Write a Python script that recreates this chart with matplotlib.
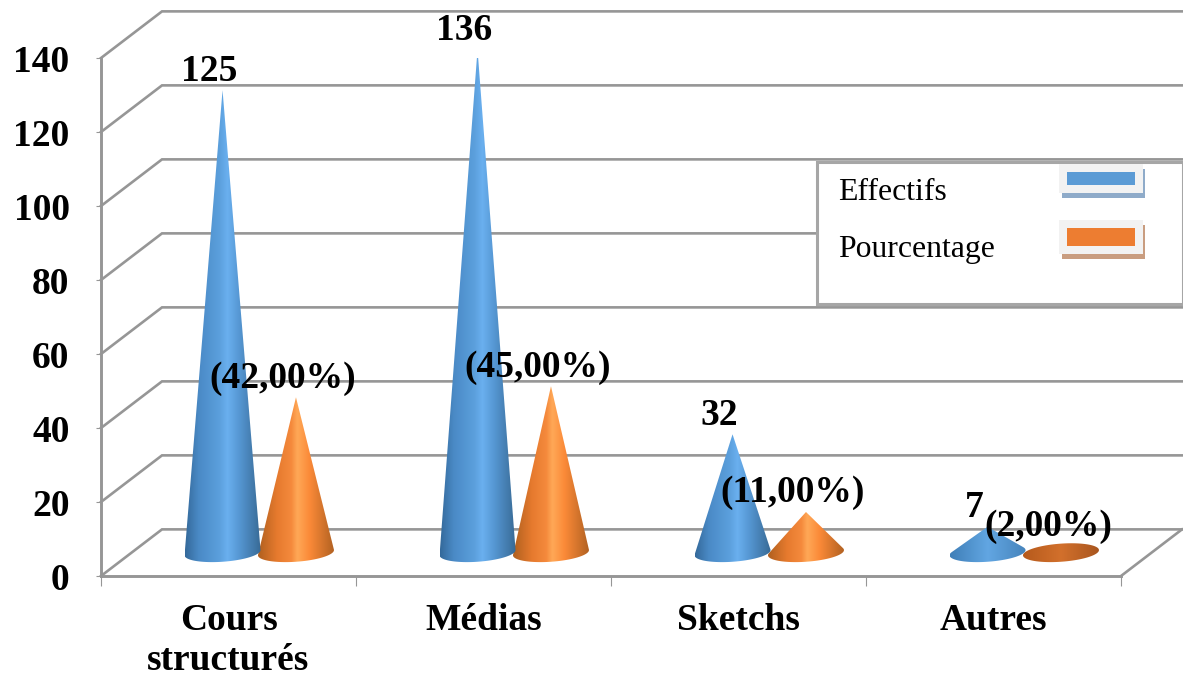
import numpy as np
import matplotlib
matplotlib.use('Agg')
import matplotlib.pyplot as plt
from matplotlib.colors import LinearSegmentedColormap
from matplotlib.patches import Polygon, Rectangle
from matplotlib.transforms import Affine2D

categories = ['Cours\nstructurés', 'Médias', 'Sketchs', 'Autres']
effectifs = [125, 136, 32, 7]
pourcentage = [42, 45, 11, 2]
effectifs_labels = ['125', '136', '32', '7']
pourcentage_labels = ['(42,00%)', '(45,00%)', '(11,00%)', '(2,00%)']
yticks = [0, 20, 40, 60, 80, 100, 120, 140]
series_names = ['Effectifs', 'Pourcentage']

plt.rcParams['font.family'] = ['Liberation Serif', 'DejaVu Serif']

# Colour ramps across the cone, left edge to right edge
blue_cmap = LinearSegmentedColormap.from_list('blue', [(0, '#34699a'), (0.18, '#4a8ac6'), (0.45, '#5b9fdc'),
                                                       (0.56, '#6ab0ef'), (0.72, '#5596d2'), (1, '#386a95')])
orange_cmap = LinearSegmentedColormap.from_list('orange', [(0, '#b0601f'), (0.25, '#e67a2e'), (0.44, '#f58a3c'),
                                                           (0.52, '#ffa857'), (0.68, '#fb8a38'), (1, '#b36222')])
blue_low = LinearSegmentedColormap.from_list('bl', ['#3f7fb8', '#62a6e2', '#4684bc'])
orange_low = LinearSegmentedColormap.from_list('ol', ['#b65a1c', '#d2702c', '#a9561f'])

GRID = '#969696'
DEPTH_X = 61 / 255     # category units
DEPTH_Y = 12.6         # value units
CONE_W = 0.149
CONE_B = 2.45
CONE_SKEW = 0.7


def hull(points):
    # Convex hull, monotone chain
    pts = sorted(map(tuple, points))

    def half(seq):
        out = []
        for p in seq:
            while len(out) > 1 and ((out[-1][0] - out[-2][0]) * (p[1] - out[-2][1])
                                    - (out[-1][1] - out[-2][1]) * (p[0] - out[-2][0])) <= 0:
                out.pop()
            out.append(p)
        return out[:-1]
    return np.array(half(pts) + half(pts[::-1]))


def draw_cone(ax, xc, value, cmap, z):
    yc = DEPTH_Y / 2
    t = np.linspace(0, 2 * np.pi, 120)
    ell = np.column_stack([xc + CONE_W * np.cos(t), yc + CONE_B * np.sin(t) + CONE_SKEW * np.cos(t)])
    outline = hull(np.vstack([ell, [[xc, yc + value]]]))
    patch = Polygon(outline, closed=True, transform=ax.transData, facecolor='none', edgecolor='none')
    ax.add_patch(patch)
    grad = np.linspace(0, 1, 256).reshape(1, -1)
    ymin, ymax = yc - 4, yc + max(value, 4) + 1
    im = ax.imshow(grad, cmap=cmap, aspect='auto', zorder=z, interpolation='bilinear',
                   extent=[xc - CONE_W, xc + CONE_W, ymin, ymax])
    im.set_clip_path(patch)


fig = plt.figure(figsize=(11.83, 6.77), dpi=100)
ax = fig.add_axes([101 / 1183, 101 / 677, 1020 / 1183, 518 / 677])

# Walls and floor
for y in yticks:
    ax.plot([0, DEPTH_X, 4.4], [y, y + DEPTH_Y, y + DEPTH_Y], color=GRID, lw=1.9, clip_on=False, zorder=1,
            solid_joinstyle='miter')
ax.plot([4, 4 + DEPTH_X], [0, DEPTH_Y], color=GRID, lw=1.9, clip_on=False, zorder=1)

# Cones
low_limit = 10
for i in range(len(categories)):
    xmid = i + 0.5 + DEPTH_X / 2
    x_blue = xmid - 0.143
    x_orange = xmid + 0.145
    draw_cone(ax, x_orange, pourcentage[i], orange_low if pourcentage[i] < low_limit else orange_cmap, 3)
    draw_cone(ax, x_blue, effectifs[i], blue_low if effectifs[i] < low_limit else blue_cmap, 3 if i < 3 else 4)
    for x, v, lab in [(x_blue, effectifs[i], effectifs_labels[i]), (x_orange, pourcentage[i], pourcentage_labels[i])]:
        ax.annotate(lab, (x, DEPTH_Y / 2 + v), xytext=(-13 * 0.72, 19 * 0.72), textcoords='offset points',
                    ha='center', va='center', fontsize=27, fontweight='bold', color='black',
                    annotation_clip=False, zorder=6)

ax.set_xlim(0, 4)
ax.set_ylim(0, 140)
ax.patch.set_alpha(0)
for side in ['top', 'right']:
    ax.spines[side].set_visible(False)
for side in ['left', 'bottom']:
    ax.spines[side].set_color(GRID)
    ax.spines[side].set_linewidth(2.1)

ax.set_yticks(yticks)
ax.set_yticklabels([str(v) for v in yticks], fontsize=27, fontweight='bold', va='center_baseline')
ax.tick_params(axis='y', length=3.6, width=0.8, color=GRID, pad=19)
ax.set_xticks(range(5))
ax.set_xticklabels([])
ax.tick_params(axis='x', which='major', length=7.5, width=0.8, color=GRID)
ax.set_xticks(np.arange(4) + 0.5, minor=True)
ax.set_xticklabels(categories, minor=True, fontsize=27, fontweight='bold', linespacing=1.2)
ax.tick_params(axis='x', which='minor', length=0, pad=19.5)

# Legend box, laid out in image pixels
px = Affine2D().scale(1, -1).translate(0, 677)
fig.add_artist(Rectangle((817, 162), 366, 142, transform=px, facecolor='white', edgecolor='#a6a6a6',
                         lw=2.2, zorder=7))
swatches = [('#5b9bd5', '#8fabc9', 164, 29, 172, 13), ('#ed7d31', '#c99d80', 220, 34, 228, 18)]
for (col, shadow, oy, oh, iy, ih), name, ty in zip(swatches, series_names, [193, 249]):
    fig.add_artist(Rectangle((1062, oy + 5), 83, oh, transform=px, facecolor=shadow, edgecolor='none', zorder=8))
    fig.add_artist(Rectangle((1059, oy), 84, oh, transform=px, facecolor='#f2f2f2', edgecolor='none', zorder=8))
    fig.add_artist(Rectangle((1067, iy), 68, ih, transform=px, facecolor=col, edgecolor='none', zorder=8))
    fig.text(838, ty, name, transform=px, fontsize=22.9, ha='left', va='center', color='black', zorder=9)

fig.savefig('out.png', dpi=100)
